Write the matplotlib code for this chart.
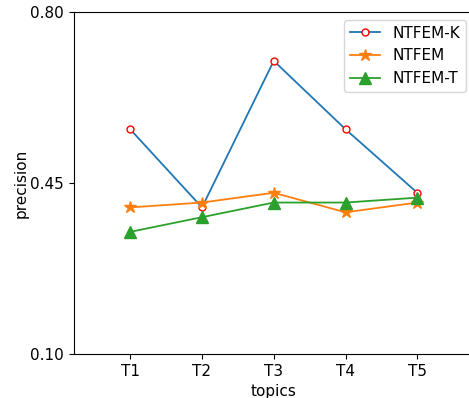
import matplotlib
matplotlib.use("Agg")
import matplotlib.pyplot as plt

topics = ["T1", "T2", "T3", "T4", "T5"]
ntfem_k = [0.56, 0.40, 0.70, 0.56, 0.43]
ntfem = [0.40, 0.41, 0.43, 0.39, 0.41]
ntfem_t = [0.35, 0.38, 0.41, 0.41, 0.42]
yticks = [0.10, 0.45, 0.80]

plt.rcParams['font.size'] = 11
fig = plt.figure(figsize=(4.69, 3.98), dpi=100)
ax = fig.add_axes([73.5/469, 1-354/398, (474-73.5)/469, (354-12)/398])
x = list(range(1, len(topics)+1))
ax.plot(x, ntfem_k, color='#1f77b4', marker='o', markerfacecolor='white',
        markeredgecolor='red', markersize=5, linewidth=1.3, label='NTFEM-K')
ax.plot(x, ntfem, color='#ff7f0e', marker='*', markersize=9, linewidth=1.3, label='NTFEM')
ax.plot(x, ntfem_t, color='#2ca02c', marker='^', markersize=8, linewidth=1.3, label='NTFEM-T')
ax.set_xlim(0.21, 5.79)
ax.set_ylim(0.10, 0.80)
ax.set_xticks(x)
ax.set_xticklabels(topics)
ax.set_yticks(yticks)
ax.set_yticklabels([f"{v:.2f}" for v in yticks])
ax.set_xlabel("topics")
ax.set_ylabel("precision", labelpad=1)
ax.legend(loc='upper right')
fig.savefig("out.png", dpi=100)
